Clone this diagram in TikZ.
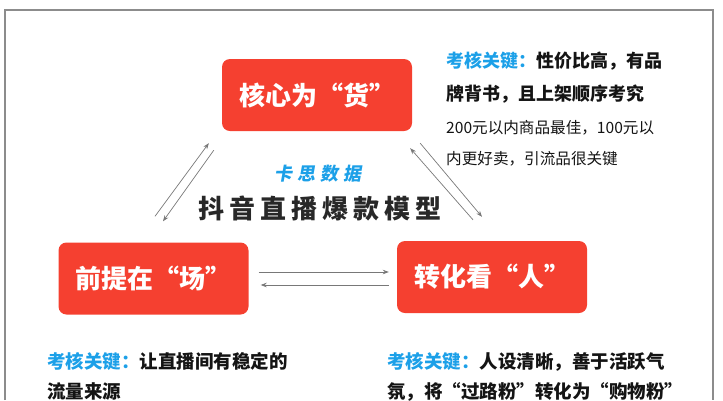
\documentclass[tikz,border=0pt]{standalone}
\usepackage{fontspec}
\setmainfont{Noto Sans CJK SC}
\newfontfamily\slantcjk{Noto Sans CJK SC}[FakeSlant=0.18]
\usetikzlibrary{arrows.meta,calc}
\definecolor{boxred}{RGB}{245,64,48}
\definecolor{keyblue}{RGB}{28,160,232}
\definecolor{framegray}{RGB}{140,140,140}
\definecolor{arrgray}{RGB}{120,120,120}
\definecolor{titlegray}{RGB}{40,40,40}
\definecolor{bodyblack}{RGB}{20,20,20}
\begin{document}
\begin{tikzpicture}[x=1pt,y=-1pt,
  redbox/.style={draw=none,fill=boxred,rounded corners=8pt,minimum width=190pt,minimum height=72pt,inner sep=0pt,text=white,font=\fontsize{26}{26}\selectfont\bfseries},
  arr/.style={draw=arrgray,line width=0.7pt,-{Stealth[length=6pt,width=4.5pt]}},
  keytext/.style={anchor=base west,inner sep=0pt,text=bodyblack,font=\fontsize{18}{18}\selectfont\bfseries},
  bottext/.style={anchor=base west,inner sep=0pt,text=bodyblack,font=\fontsize{18.5}{18.5}\selectfont\bfseries},
  subtext/.style={anchor=base west,inner sep=0pt,text=bodyblack,font=\fontsize{15.6}{15.6}\selectfont},
]
\useasboundingbox (0,0) rectangle (723,400);
\draw[framegray,line width=1.5pt] (5,400) -- (5,10) -- (713,10) -- (713,400);

\node[redbox] (T) at (317,95) {核心为“货”};
\node[redbox] (L) at (153.5,278.5) {前提在“场”};
\node[redbox] (R) at (492,277) {转化看“人”};

\draw[arr] ($(L.east)+(10,-6.5)$) -- ($(R.west |- L.east)+(-8,-6.5)$);
\draw[arr] ($(R.west |- L.east)+(-8,6.5)$) -- ($(L.east)+(12,6.5)$);

\draw[arr] ($(L.north)+(1.5,-26)$) -- ($(T.south west)+(-13,12)$);
\draw[arr] ($(T.south west)+(-8,19)$) -- ($(L.north)+(9.5,-21)$);
\draw[arr] ($(R.north)+(-19,-21)$) -- ($(T.south east)+(-2,17)$);
\draw[arr] ($(T.south east)+(8,12)$) -- ($(R.north)+(-10,-24)$);

\node[anchor=base,inner sep=0pt,text=keyblue,font=\slantcjk\fontsize{18}{18}\selectfont\bfseries] (brand) at (318,180) {卡\hspace{5pt}思\hspace{5pt}数\hspace{5pt}据};
\node[anchor=base,inner sep=0pt,text=titlegray,font=\fontsize{26}{26}\selectfont\bfseries] (title) at (320,218) {抖\hspace{5pt}音\hspace{5pt}直\hspace{5pt}播\hspace{5pt}爆\hspace{5pt}款\hspace{5pt}模\hspace{5pt}型};

\node[keytext] (rt1) at (446,67.8) {\textcolor{keyblue}{考核关键：}性价比高，有品};
\node[keytext] (rt2) at (446,100.8) {牌背书，且上架顺序考究};
\node[subtext] (rt3) at (446,133.7) {200元以内商品最佳，100元以};
\node[subtext] (rt4) at (446,164) {内更好卖，引流品很关键};

\node[bottext] (bl1) at (47,368) {\textcolor{keyblue}{考核关键：}让直播间有稳定的};
\node[bottext] (bl2) at (47,398) {流量来源};
\node[bottext] (br1) at (387,368) {\textcolor{keyblue}{考核关键：}人设清晰，善于活跃气};
\node[bottext] (br2) at (387,398) {氛，将“过路粉”转化为“购物粉”};
\end{tikzpicture}
\end{document}
